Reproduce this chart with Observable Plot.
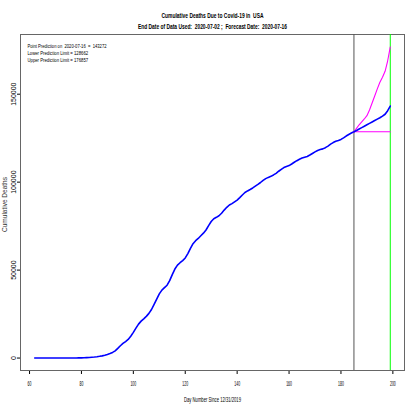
<!DOCTYPE html>
<html><head><meta charset="utf-8">
<script src="https://cdn.jsdelivr.net/npm/d3@7"></script>
<script src="https://cdn.jsdelivr.net/npm/@observablehq/plot@0.6"></script>
<style>html,body{margin:0;padding:0;background:#fff} svg{display:block}</style>
</head><body><div id="chart"></div>
<script>
// ---- data ----
const obsStartDay = 62;
const obsDeaths = [
  0, 0, 1, 2, 3, 5, 7, 9, 11, 12, 15, 19, 22, 30, 41, 55, 70, 95, 130,
  170, 230, 310, 420, 560, 750, 980, 1250, 1600, 2050, 2600, 3200, 4100, 5500,
  7000, 8300, 9400, 10600, 12400, 14600, 17000, 19300, 21000, 22300, 23700, 25400,
  27600, 30500, 33500, 36500, 38600, 40000, 41400, 44000, 47400, 50600, 52800,
  54200, 55400, 56900, 59400, 62400, 65000, 66700, 68000, 69500, 71000, 72800,
  75300, 77600, 79200, 80000, 80900, 82300, 84100, 85700, 87000, 87800, 88800,
  89800, 91200, 92700, 94100, 95000, 95800, 96700, 97700, 98700, 99800, 101000,
  102000, 102700, 103300, 104100, 105000, 106200, 107300, 108300, 108900, 109400,
  110300, 111300, 112200, 113000, 113700, 114200, 114600, 115400, 116300, 117200,
  118000, 118500, 118900, 119600, 120500, 121600, 122500, 123200, 123700, 124300,
  125200, 126200, 127100, 127900, 128662
];
const fcDays  = [185, 186, 187, 188, 189, 190, 191, 192, 193, 194, 195, 196, 197, 198, 199];
const fcPred  = [128662, 129400, 130200, 131000, 131800, 132600, 133400, 134200, 135000, 135800, 136600, 137500, 138600, 140600, 143272];
const fcUpper = [128662, 130600, 132600, 134300, 135900, 137800, 141000, 145000, 149000, 153000, 156800, 159600, 163000, 169000, 176857];
const fcLower = [128662, 128662, 128662, 128662, 128662, 128662, 128662, 128662, 128662, 128662, 128662, 128662, 128662, 128662, 128662];
const endDay = 185;
const forecastDay = 199;
const xTicks = [60, 80, 100, 120, 140, 160, 180, 200];
const yTicks = [0, 50000, 100000, 150000];
const titleLines = ["Cumulative Deaths Due to Covid-19 in  USA", "End Date of Data Used:  2020-07-02 ;  Forecast Date:  2020-07-16"];
const legendLines = ["Point Prediction on  2020-07-16  =  143272", "Lower Prediction Limit = 128662", "Upper Prediction Limit = 176857"];
const xLabel = "Day Number Since 12/31/2019";
const yLabel = "Cumulative Deaths";

// ---- tables ----
const obs = obsDeaths.map((v, i) => ({day: obsStartDay + i, deaths: v}));
const fc = fcDays.map((d, i) => ({day: d, pred: fcPred[i], upper: fcUpper[i], lower: fcLower[i]}));

const xMin = obsStartDay, xMax = forecastDay, xPad = (xMax - xMin) * 0.04;
const yMin = 0, yMax = d3.max(fcUpper), yPad = (yMax - yMin) * 0.04;

const font = "'Liberation Sans', Arial, Helvetica, sans-serif";

const chart = Plot.plot({
  width: 415, height: 415,
  marginLeft: 20, marginRight: 11, marginTop: 34, marginBottom: 45,
  style: {fontFamily: font, fontSize: "7px", background: "#fff", color: "#000"},
  x: {domain: [xMin - xPad, xMax + xPad], ticks: xTicks, tickSize: 4, tickPadding: 7, label: null},
  y: {domain: [yMin - yPad, yMax + yPad], ticks: yTicks, tickSize: 3, tickRotate: -90, tickPadding: 2,
      tickFormat: d => String(d), label: null},
  marks: [
    Plot.frame({stroke: "#666"}),
    Plot.ruleX([endDay], {stroke: "#555", strokeWidth: 1}),
    Plot.ruleX([forecastDay], {stroke: "#00ff00", strokeWidth: 1}),
    Plot.line(obs, {x: "day", y: "deaths", stroke: "#0000ff", strokeWidth: 1.6}),
    Plot.line(fc, {x: "day", y: "upper", stroke: "#ff00ff", strokeWidth: 1.1}),
    Plot.line(fc, {x: "day", y: "lower", stroke: "#ff00ff", strokeWidth: 1.1}),
    Plot.line(fc, {x: "day", y: "pred", stroke: "#0000ff", strokeWidth: 1.6}),
    Plot.text([titleLines[0]], {frameAnchor: "top", dy: -21, fontWeight: "bold", fontSize: 7}),
    Plot.text([titleLines[1]], {frameAnchor: "top", dy: -10, fontWeight: "bold", fontSize: 7}),
    Plot.text([legendLines[0]], {frameAnchor: "top-left", dx: 7, dy: 9, textAnchor: "start", fontSize: 6}),
    Plot.text([legendLines[1]], {frameAnchor: "top-left", dx: 7, dy: 16.3, textAnchor: "start", fontSize: 6}),
    Plot.text([legendLines[2]], {frameAnchor: "top-left", dx: 7, dy: 23.6, textAnchor: "start", fontSize: 6}),
    Plot.text([xLabel], {frameAnchor: "bottom", dy: 31, fontSize: 7}),
    Plot.text([yLabel], {frameAnchor: "left", dx: -16, dy: 2, rotate: -90, textAnchor: "middle", fontSize: 6.5, fill: "#333"})
  ]
});
document.getElementById("chart").appendChild(chart);

// horizontal compression of text (the reference is horizontally squeezed)
const targets = new Map([
  [titleLines[0], 102], [titleLines[1], 149],
  [legendLines[0], 79], [legendLines[1], 60.6], [legendLines[2], 60.6],
  [xLabel, 57]
]);
chart.querySelectorAll("text").forEach(t => {
  const s = t.textContent;
  if (s === yLabel || /rotate/.test(t.getAttribute("transform") || "")) return;
  const w = t.getComputedTextLength();
  if (!w) return;
  const target = targets.has(s) ? targets.get(s) : w * 0.5;
  t.setAttribute("textLength", target);
  t.setAttribute("lengthAdjust", "spacingAndGlyphs");
});
</script>
</body></html>
